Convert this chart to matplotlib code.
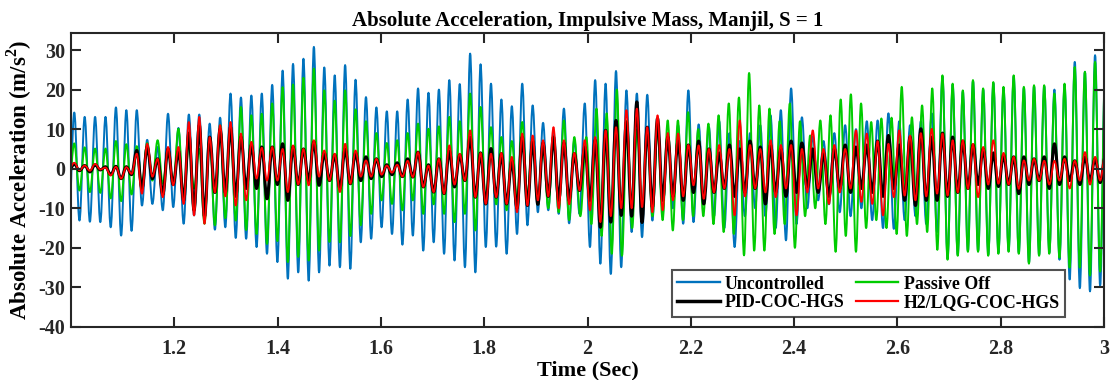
import numpy as np
import matplotlib
matplotlib.use("Agg")
import matplotlib.pyplot as plt
from matplotlib.path import Path
from matplotlib.patches import PathPatch
from matplotlib.lines import Line2D

plt.rcParams['font.family'] = ['Liberation Serif', 'DejaVu Serif']
plt.rcParams['font.weight'] = 'bold'
plt.rcParams['mathtext.fontset'] = 'custom'
plt.rcParams['mathtext.rm'] = 'Liberation Serif:bold'
plt.rcParams['mathtext.bf'] = 'Liberation Serif:bold'
plt.rcParams['axes.unicode_minus'] = False

# peak times (s) of the response cycles, read at a few anchor cycles
blue_anchor_idx = [0, 55, 69, 83, 96, 99]
blue_anchor_t = [1.0063, 2.1157, 2.3942, 2.6873, 2.9434, 3.0024]
green_anchor_idx = [0, 48, 49, 100]
green_anchor_t = [1.0063, 1.9745, 1.9977, 3.0024]

# Uncontrolled: peak of each cycle, trough before each peak (+ last trough)
unc_peaks = [14.2, 13.1, 13.1, 13.1, 15.5, 14.8, 14.8, 7.3, 5.5, 13.9,
             10.3, 13.7, 13.7, 11.4, 12.9, 19.0, 18.0, 18.5, 19.0, 21.2,
             24.8, 26.5, 27.8, 30.8, 25.6, 23.6, 26.2, 22.5, 18.1, 15.5,
             14.5, 14.5, 17.5, 20.3, 19.2, 20.0, 22.4, 21.4, 29.1, 26.4,
             21.5, 17.5, 15.8, 21.5, 16.0, 11.6, 9.3, 15.2, 7.3, 16.5,
             22.4, 21.5, 24.7, 19.8, 19.0, 18.7, 12.0, 9.0, 11.0, 19.8,
             11.2, 10.5, 12.0, 9.0, 7.0, 9.0, 11.0, 13.5, 14.8, 20.3,
             13.0, 8.2, 7.0, 9.0, 11.0, 10.0, 12.0, 12.2, 14.0, 12.0,
             11.0, 12.0, 14.0, 23.3, 21.2, 19.5, 22.1, 20.0, 21.6, 20.4,
             23.3, 20.4, 20.8, 20.8, 20.0, 21.2, 27.0, 24.5, 28.7, 26.0]
unc_troughs = [-12.0,
               -13.1, -13.4, -13.5, -14.8, -16.9, -15.7, -9.3, -8.9, -10.5, -9.7,
               -13.9, -11.8, -13.1, -15.4, -14.8, -17.5, -17.7, -19.8, -21.5, -23.6,
               -27.8, -26.2, -28.3, -26.2, -24.5, -24.9, -25.3, -18.6, -17.7, -14.8,
               -16.5, -19.2, -16.9, -20.7, -18.6, -21.5, -23.2, -24.9, -26.2, -19.8,
               -19.7, -21.5, -16.5, -14.3, -11.0, -10.5, -11.4, -13.8, -11.4, -19.8,
               -24.0, -26.6, -24.9, -16.0, -17.3, -13.1, -11.0, -10.0, -13.9, -13.5,
               -8.9, -12.0, -15.0, -19.8, -12.0, -10.0, -12.0, -15.0, -18.1, -14.0,
               -10.0, -8.0, -9.0, -11.0, -12.0, -10.0, -13.0, -15.0, -15.2, -13.0,
               -12.0, -14.0, -16.0, -22.7, -21.7, -20.7, -20.7, -21.7, -21.2, -20.7,
               -21.2, -23.7, -21.7, -21.2, -23.0, -28.0, -30.2, -31.0, -29.5, -30.0]

# Passive Off
pas_peaks = [6.4, 5.4, 5.1, 5.1, 7.0, 6.2, 5.7, 6.5, 7.2, 5.0,
             10.1, 6.0, 5.0, 8.0, 11.0, 10.1, 15.6, 13.5, 13.9, 16.5,
             20.6, 21.3, 23.0, 25.3, 19.8, 17.2, 19.8, 15.0, 12.0, 9.0,
             6.5, 7.2, 9.0, 11.4, 10.1, 10.7, 13.1, 12.0, 19.0, 15.6,
             10.5, 8.0, 7.0, 11.8, 8.0, 6.0, 8.0, 12.2, 8.0,
             8.0, 15.2, 14.0, 20.0, 12.2, 10.0, 9.0, 10.0, 12.2, 12.2,
             14.3, 10.0, 11.4, 13.5, 16.5, 18.0, 24.2, 16.0, 15.2, 12.0,
             16.5, 12.0, 8.4, 12.2, 13.5, 17.5, 18.8, 16.5, 11.8, 12.7,
             12.9, 20.7, 13.0, 16.0, 20.3, 23.6, 21.5, 19.8, 22.4, 20.3,
             21.9, 20.7, 23.6, 20.7, 21.1, 21.1, 19.0, 21.5, 25.7, 24.5,
             27.0, 26.0]
pas_troughs = [-4.0,
               -5.5, -5.9, -6.1, -7.5, -8.2, -6.5, -4.0, -3.0, -3.8, -4.0,
               -7.6, -5.0, -13.9, -14.3, -12.5, -13.1, -15.5, -16.5, -19.0, -18.3,
               -23.6, -22.3, -23.2, -20.7, -18.5, -18.6, -17.0, -14.3, -11.4, -8.0,
               -8.9, -10.5, -8.0, -11.4, -9.0, -11.4, -13.5, -11.4, -15.6, -9.0,
               -9.0, -10.5, -8.0, -7.0, -9.0, -10.0, -11.0, -13.0, -12.0,
               -14.0, -17.0, -21.5, -22.0, -15.0, -11.4, -12.0, -13.0, -15.6, -13.0,
               -12.0, -12.0, -14.0, -16.0, -16.5, -21.9, -20.7, -20.7, -16.5, -14.0,
               -20.0, -12.0, -10.0, -14.0, -21.0, -17.0, -21.0, -15.0, -13.0, -15.0,
               -16.5, -17.0, -14.0, -16.0, -20.5, -23.0, -22.0, -21.0, -21.0, -22.0,
               -21.5, -21.0, -21.5, -24.0, -22.0, -21.5, -22.5, -25.0, -25.0, -27.0,
               -26.0, -27.0]

# PID-COC-HGS
pid_peaks = [1.2, 0.8, 1.0, 0.5, 0.6, 0.5, 4.6, 5.5, 2.5, 5.0,
             4.5, 9.0, 11.0, 8.0, 10.0, 10.5, 8.0, 6.0, 5.5, 5.5,
             6.3, 5.5, 5.0, 6.8, 4.0, 3.5, 5.0, 4.0, 3.0, 2.5,
             1.0, 1.5, 2.5, 4.2, 1.0, 2.5, 4.5, 3.5, 8.0, 4.0,
             5.1, 3.8, 2.0, 8.0, 7.0, 6.5, 8.0, 6.5, 3.8, 5.5,
             7.2, 9.7, 12.2, 11.8, 16.9, 10.5, 12.7, 8.0, 7.0, 6.0,
             7.0, 5.0, 4.0, 6.0, 5.0, 7.0, 5.5, 6.0, 5.0, 7.0,
             6.5, 5.0, 4.0, 5.0, 6.0, 5.5, 6.0, 7.0, 8.4, 6.0,
             8.0, 10.1, 8.0, 9.0, 8.0, 7.0, 6.0, 5.0, 4.0, 3.5,
             3.0, 3.0, 2.5, 3.0, 6.3, 3.0, 2.0, 3.0, 2.5, 3.0]
pid_troughs = [-0.5,
               -0.5, -0.8, -0.3, -1.5, -2.5, -1.5, -5.0, -2.5, -6.5, -4.0,
               -8.0, -10.5, -12.0, -6.0, -6.0, -7.0, -5.0, -5.0, -7.6, -4.0,
               -8.0, -4.0, -3.0, -4.2, -3.0, -5.0, -3.8, -3.0, -2.5, -2.0,
               -1.5, -2.0, -2.1, -4.6, -5.9, -6.3, -4.6, -3.0, -7.2, -8.9,
               -7.2, -8.9, -10.0, -9.3, -9.0, -7.0, -8.0, -8.0, -5.5, -8.0,
               -14.8, -13.5, -11.8, -12.0, -13.6, -9.7, -8.0, -7.0, -8.0, -6.0,
               -8.9, -6.0, -5.0, -7.0, -6.0, -5.0, -8.9, -6.0, -7.0, -6.0,
               -5.0, -6.0, -7.0, -5.0, -6.0, -5.0, -6.0, -7.0, -5.0, -8.0,
               -9.3, -8.0, -8.0, -7.0, -6.0, -5.0, -4.0, -5.0, -4.5, -4.0,
               -6.3, -4.0, -3.0, -5.0, -4.0, -3.0, -4.0, -3.0, -3.5, -3.0]

# H2/LQG-COC-HGS
lqg_peaks = [1.5, 0.8, 1.2, 0.3, 0.5, 0.4, 3.8, 6.3, 2.5, 5.5,
             5.5, 11.8, 13.1, 8.0, 11.0, 11.8, 8.9, 6.8, 5.3, 5.5,
             5.0, 5.9, 5.0, 7.2, 4.6, 3.8, 6.3, 4.6, 2.1, 2.5,
             0.8, 1.0, 2.0, 4.2, 0.8, 2.5, 5.9, 3.8, 9.7, 4.0,
             3.8, 4.0, 3.0, 8.9, 8.4, 7.2, 10.5, 7.2, 4.0, 7.2,
             8.0, 9.7, 10.5, 14.8, 15.2, 10.5, 13.5, 9.0, 8.9, 6.0,
             5.9, 5.0, 6.0, 5.0, 12.2, 6.0, 5.0, 7.2, 6.0, 6.0,
             5.0, 9.7, 5.0, 6.0, 5.0, 9.7, 8.9, 7.0, 6.3, 9.7,
             8.4, 9.0, 10.1, 8.9, 7.2, 7.2, 6.3, 5.5, 7.2, 4.0,
             3.0, 2.1, 2.5, 2.0, 2.0, 2.5, 2.0, 4.2, 3.0, 3.5]
lqg_troughs = [0.0,
               -0.4, -0.5, -0.2, -1.7, -2.5, -1.3, -6.3, -2.0, -7.2, -4.2,
               -8.9, -11.8, -13.9, -6.0, -7.0, -9.3, -8.0, -2.5, -3.0, -3.0,
               -5.9, -4.0, -4.2, -2.0, -3.0, -5.9, -3.8, -2.0, -2.0, -1.5,
               -1.0, -2.0, -2.1, -4.6, -5.9, -6.3, -4.0, -3.0, -7.2, -8.9,
               -7.2, -8.9, -11.0, -9.3, -8.0, -7.0, -10.0, -9.0, -5.5, -10.5,
               -13.5, -12.0, -10.0, -10.0, -9.7, -11.0, -10.5, -8.0, -7.0, -4.2,
               -7.6, -6.0, -5.0, -11.8, -7.0, -5.0, -6.0, -7.2, -5.0, -11.8,
               -6.0, -5.0, -8.9, -6.0, -5.0, -8.4, -8.9, -11.8, -7.2, -6.8,
               -8.0, -7.0, -6.3, -6.8, -6.0, -5.1, -7.2, -4.0, -3.8, -4.0,
               -5.1, -3.0, -3.0, -4.0, -3.0, -5.0, -3.0, -4.0, -3.0, -3.5]

x_ticks = [1.2, 1.4, 1.6, 1.8, 2.0, 2.2, 2.4, 2.6, 2.8, 3.0]
x_ticklabels = ['1.2', '1.4', '1.6', '1.8', '2', '2.2', '2.4', '2.6', '2.8', '3']
y_ticks = [-40, -30, -20, -10, 0, 10, 20, 30]


def extremes(peak_t, peaks, troughs):
    # troughs sit half way between peaks; one before the first, one after the last
    half = np.diff(peak_t)
    trough_t = np.concatenate([[peak_t[0] - half[0] / 2],
                               peak_t[:-1] + half / 2,
                               [peak_t[-1] + half[-1] / 2]])
    t = np.empty(len(peak_t) + len(trough_t))
    v = np.empty_like(t)
    t[0::2], v[0::2] = trough_t, troughs
    t[1::2], v[1::2] = peak_t, peaks
    return t, v


def wave_path(t, v, c=0.3642):
    # smooth cubic curve with flat tangents at every extreme (sine-like)
    verts = [(t[0], v[0])]
    codes = [Path.MOVETO]
    for i in range(len(t) - 1):
        d = t[i + 1] - t[i]
        verts += [(t[i] + c * d, v[i]), (t[i + 1] - c * d, v[i + 1]), (t[i + 1], v[i + 1])]
        codes += [Path.CURVE4] * 3
    return Path(verts, codes)


blue_t = np.interp(np.arange(len(unc_peaks)), blue_anchor_idx, blue_anchor_t)
green_t = np.interp(np.arange(len(pas_peaks)), green_anchor_idx, green_anchor_t)

series = [
    ('Uncontrolled', blue_t, unc_peaks, unc_troughs, '#0072BD', 1.4),
    ('Passive Off', green_t, pas_peaks, pas_troughs, '#00CC00', 1.4),
    ('PID-COC-HGS', blue_t, pid_peaks, pid_troughs, '#000000', 2.2),
    ('H2/LQG-COC-HGS', blue_t, lqg_peaks, lqg_troughs, '#FF0000', 1.3),
]

fig = plt.figure(figsize=(11.13, 3.8), dpi=100)
ax = fig.add_axes([71 / 1113, 1 - 327 / 380, 1033 / 1113, 294 / 380])

handles = {}
for name, pt, pk, tr, col, lw in series:
    t, v = extremes(np.asarray(pt), pk, tr)
    ax.add_patch(PathPatch(wave_path(t, v), fill=False, edgecolor=col,
                           linewidth=lw, joinstyle='round', capstyle='round'))
    handles[name] = Line2D([], [], color=col, linewidth=lw + 0.3, label=name)

ax.set_xlim(1.0, 3.0)
ax.set_ylim(-40, 34.3)
ax.set_xticks(x_ticks)
ax.set_xticklabels(x_ticklabels)
ax.set_yticks(y_ticks)
ax.tick_params(direction='in', top=True, right=True, length=7, width=1.5,
               labelsize=14.5, colors='#262626')
ax.tick_params(axis='x', pad=9)
ax.tick_params(axis='y', pad=4)
for s in ax.spines.values():
    s.set_linewidth(1.5)
    s.set_color('#262626')

ax.set_title('Absolute Acceleration, Impulsive Mass, Manjil, S = 1',
             fontsize=15, fontweight='bold', pad=5)
ax.set_xlabel('Time (Sec)', fontsize=16, fontweight='bold', labelpad=1)
ax.set_ylabel('Absolute Acceleration (m/s$^2$)', fontsize=16.5, fontweight='bold', labelpad=3)

order = ['Uncontrolled', 'PID-COC-HGS', 'Passive Off', 'H2/LQG-COC-HGS']
leg = ax.legend([handles[k] for k in order], order, ncol=2, loc='lower right',
                bbox_to_anchor=(0.9623, 0.035), borderaxespad=0, fontsize=12.9,
                frameon=True, fancybox=False, edgecolor='#262626',
                handlelength=2.38, handletextpad=0.3, columnspacing=0.6,
                labelspacing=0.1, borderpad=0.3)
leg.get_frame().set_linewidth(1.5)

fig.savefig('out.png', dpi=100)
